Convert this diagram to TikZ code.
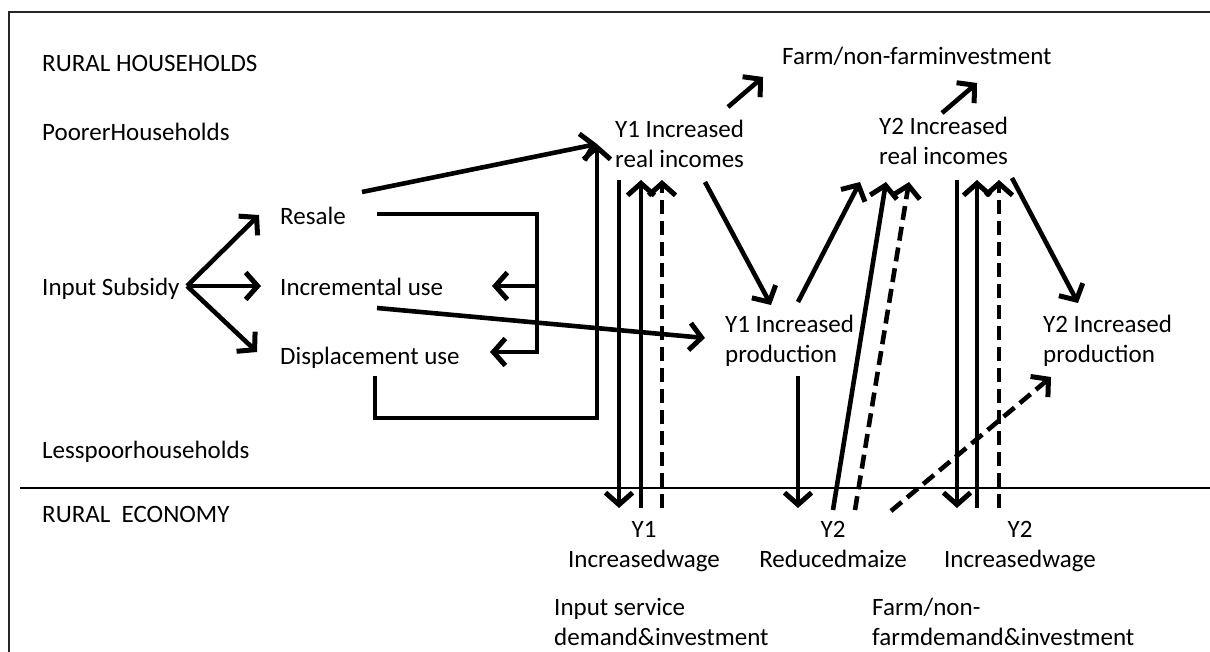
\documentclass[tikz,border=0pt]{standalone}
\usepackage{fontspec}
\setmainfont{Carlito}
\usetikzlibrary{arrows.meta}

\begin{document}
\begin{tikzpicture}[x=1pt,y=-1pt,font=\fontsize{25}{30}\selectfont,
  txt/.style={inner sep=0pt,anchor=base west},
  txttwo/.style={inner sep=0pt,anchor=north west,align=left,
    execute at begin node=\strut},
  txtmid/.style={txttwo,anchor=north,align=center},
  bar/.style={line width=4.6pt},
  flow/.style={bar,-{Straight Barb[length=12pt,width=27pt,line width=5pt]}},
  dflow/.style={flow,dash pattern=on 14pt off 7pt}]
  \useasboundingbox (0,0) rectangle (1210,652);

  % frame and households / economy split
  \draw[line width=1.8pt,black!85] (9,670) -- (9,12) -- (1220,12);
  \draw[line width=2pt] (20,488) -- (1220,488);

  % row labels
  \node[txt] (hh)   at (42,72)  {RURAL HOUSEHOLDS};
  \node[txt] (poor) at (42,141) {PoorerHouseholds};
  \node[txt] (sub)  at (42,296) {Input Subsidy};
  \node[txt] (less) at (42,458) {Lesspoorhouseholds};
  \node[txt] (eco)  at (42,522) {RURAL\ \ ECONOMY};

  % uses of the subsidy
  \node[txt] (resale) at (280,225) {Resale};
  \node[txt] (incr)   at (280,296) {Incremental use};
  \node[txt] (displ)  at (280,364) {Displacement use};

  % household effects
  \node[txt] (farminv) at (782,65) {Farm/non-farminvestment};
  \node[txttwo] (yoneinc)  at (615,120)  {Y1 Increased\\real incomes};
  \node[txttwo] (ytwoinc)  at (879,117)  {Y2 Increased\\real incomes};
  \node[txttwo] (yoneprod) at (725,315)  {Y1 Increased\\production};
  \node[txttwo] (ytwoprod) at (1043,315) {Y2 Increased\\production};

  % economy effects
  \node[txtmid] (yonewage)  at (644,521)  {Y1\\Increasedwage};
  \node[txtmid] (ytwomaize) at (833,521)  {Y2\\Reducedmaize};
  \node[txtmid] (ytwowage)  at (1020,521) {Y2\\Increasedwage};
  \node[txttwo] (inputdem)  at (554,598)  {Input service\\demand\&investment};
  \node[txttwo] (farmdem)   at (872,598)  {Farm/non-\\farmdemand\&investment};

  % arrow ends
  \coordinate (fan)      at (187,286);
  \coordinate (resalein) at (259,215);
  \coordinate (incrin)   at (261,286);
  \coordinate (displin)  at (257,352);
  \coordinate (resaleout) at (362,192);
  \coordinate (incinone)  at (597,144);
  \coordinate (brtop)    at (377,214);
  \coordinate (brturn)   at (537,214);
  \coordinate (brmid)    at (537,286);
  \coordinate (brlow)    at (537,352);
  \coordinate (incrback) at (492,286);
  \coordinate (displback) at (490,352);
  \coordinate (displout) at (375,376);
  \coordinate (elbowa)   at (375,418);
  \coordinate (elbowb)   at (597,418);
  \coordinate (incrout)  at (377,308);
  \coordinate (prodinone) at (705,338);
  \foreach \n/\x in {wa/619,wb/641,wc/662,wd/957,we/977,wf/999}{
    \coordinate (\n top) at (\x,180);
    \coordinate (\n bot) at (\x,508);
  }
  \coordinate (maizeout) at (798,376);
  \coordinate (maizein)  at (798,508);

  % subsidy fan
  \draw[flow] (fan) -- (resalein);
  \draw[flow] (fan) -- (incrin);
  \draw[flow] (fan) -- (displin);

  % resale feeds back and raises incomes
  \draw[flow] (resaleout) -- (incinone);
  \draw[flow] (brtop) -- (brturn) -- (brlow) -- (displback);
  \draw[flow] (brmid) -- (incrback);
  \draw[flow] (displout) -- (elbowa) -- (elbowb) -- (incinone);
  \draw[flow] (incrout) -- (prodinone);

  % year one wage links
  \draw[flow]  (watop) -- (wabot);
  \draw[flow]  (wbbot) -- (wbtop);
  \draw[dflow] (wcbot) -- (wctop);

  % incomes, production and investment
  \draw[flow] (705,182) coordinate (incoutone) -- (771,305) coordinate (prodtop);
  \draw[flow] (798,302) coordinate (prodout) -- (860,182) coordinate (incintwo);
  \draw[flow] (maizeout) -- (maizein);
  \draw[flow]  (833,510) coordinate (maizea) -- (886,182) coordinate (incinb);
  \draw[dflow] (855,510) coordinate (maizeb) -- (909,182) coordinate (incinc);
  \draw[dflow] (891,511) coordinate (maizec) -- (1051,377) coordinate (prodintwo);
  \draw[flow] (1012,178) coordinate (incouttwo) -- (1078,303) coordinate (prodtoptwo);
  \draw[flow] (728,107) coordinate (invone) -- (763,77) coordinate (invonetip);
  \draw[flow] (942,113) coordinate (invtwo) -- (977,83) coordinate (invtwotip);

  % year two wage links
  \draw[flow]  (wdtop) -- (wdbot);
  \draw[flow]  (webot) -- (wetop);
  \draw[dflow] (wfbot) -- (wftop);
\end{tikzpicture}
\end{document}
